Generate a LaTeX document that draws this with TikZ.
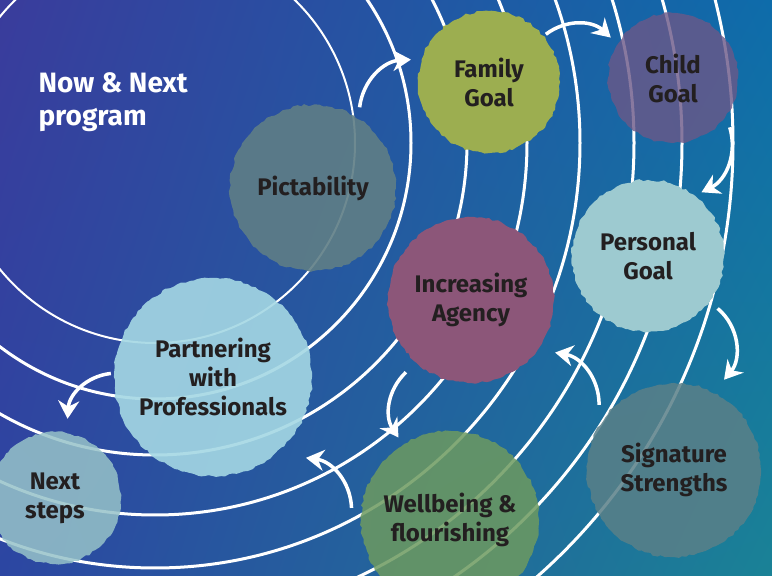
\documentclass[tikz,border=0pt]{standalone}
\usepackage{fontspec}
\setmainfont{Fira Sans}
\usetikzlibrary{arrows.meta,decorations.pathmorphing,shadings}
\usepackage{xcolor}

\definecolor{bgul}{HTML}{3A3C9C}
\definecolor{bgur}{HTML}{0E6CAA}
\definecolor{bgll}{HTML}{2C46A2}
\definecolor{bglr}{HTML}{1A8296}
\definecolor{inkdark}{HTML}{231F20}
\definecolor{pictfill}{HTML}{5F7E86}
\definecolor{familyfill}{HTML}{9CAE50}
\definecolor{childfill}{HTML}{6B5888}
\definecolor{personalfill}{HTML}{9DCAD0}
\definecolor{agencyfill}{HTML}{8C5679}
\definecolor{partnerfill}{HTML}{A5D8E4}
\definecolor{nextfill}{HTML}{97C3C9}
\definecolor{wellfill}{HTML}{6D9A60}
\definecolor{signfill}{HTML}{5A8088}

\tikzset{
  ring/.style={draw=white, line width=3pt},
  blob/.style={circle, inner sep=0pt, text=inkdark, align=center,
    font=\fontsize{24}{29}\selectfont\bfseries,
    decorate, decoration={random steps, segment length=4pt, amplitude=1.2pt}},
  flow/.style={draw=white, line width=3.5pt, -{Stealth[length=18pt,width=21pt]}},
}

\begin{document}
\begin{tikzpicture}[x=1pt, y=1pt]
        \pgfmathsetseed{7}
        \useasboundingbox (0,0) rectangle (772,576);
        \clip (0,0) rectangle (772,576);
        \shade[upper left=bgul, upper right=bgur, lower left=bgll, lower right=bglr] (0,0) rectangle (772,576);

        \coordinate (hub) at (155,433);
        \draw[ring, line width=2pt] (hub) circle (200);
        \foreach \r in {256,312,372,425,479,527,578}
            \draw[ring] (hub) circle (\r);

        \node[anchor=north west, text=white, align=left, font=\fontsize{28}{33}\selectfont\bfseries] (title) at (35,507) {Now \& Next\\program};

        \node[blob, fill=pictfill, fill opacity=.9, text opacity=1, minimum size=166] (pict) at (313,388) {Pictability};
        \node[blob, fill=familyfill, minimum size=142] (family) at (489,494) {Family\\Goal};
        \node[blob, fill=childfill, fill opacity=.8, text opacity=1, minimum size=130] (child) at (673,498) {Child\\Goal};
        \node[blob, fill=personalfill, minimum size=152] (personal) at (648,320) {Personal\\Goal};
        \node[blob, fill=agencyfill, minimum size=166] (agency) at (471,276) {Increasing\\Agency};
        \node[blob, fill=partnerfill, fill opacity=.9, text opacity=1, minimum size=198] (partner) at (213,199) {Partnering\\with\\Professionals};
        \node[blob, fill=nextfill, fill opacity=.85, text opacity=1, minimum size=132] (next) at (55,78) {Next\\steps};
        \node[blob, fill=wellfill, fill opacity=.85, text opacity=1, minimum size=178] (well) at (450,56) {Wellbeing \&\\flourishing};
        \node[blob, fill=signfill, fill opacity=.85, text opacity=1, minimum size=174] (sign) at (674,106) {Signature\\Strengths};

        \path[every edge/.style={flow}]
            ([shift={(60:10)}]pict.60) edge[bend left=40] ([shift={(164:10)}]family.164)
            ([shift={(40:3)}]family.40) edge[bend left=40] ([shift={(147:9)}]child.147)
            ([shift={(-41:10)}]child.-41) edge[bend left=40] ([shift={(50:7)}]personal.50)
            ([shift={(-37:11)}]personal.-37) edge[bend left=45] ([shift={(61:16)}]sign.61)
            ([shift={(139:12)}]sign.139) edge[bend right=40] ([shift={(-32:16)}]agency.-32)
            ([shift={(-132:14)}]agency.-132) edge[bend right=40] ([shift={(122:8)}]well.122)
            ([shift={(173:10)}]well.173) edge[bend right=40] ([shift={(-41:24)}]partner.-41)
            ([shift={(178:3)}]partner.178) edge[bend right=40] ([shift={(81:14)}]next.81);

\end{tikzpicture}
\end{document}
